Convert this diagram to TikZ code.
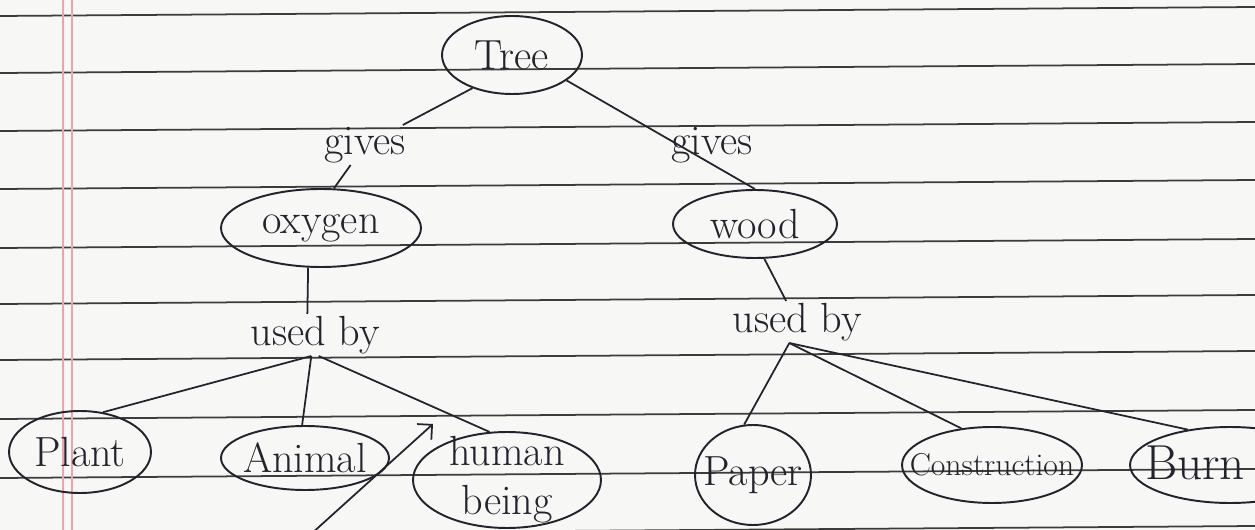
\documentclass[tikz,border=0pt]{standalone}
\usetikzlibrary{shapes.geometric,arrows.meta}
\definecolor{paper}{HTML}{F7F7F5}
\definecolor{ink}{HTML}{23232E}
\definecolor{rulegray}{HTML}{3C3C3C}
\definecolor{marginpink}{HTML}{EBA5B0}
\begin{document}
\begin{tikzpicture}[x=0.02cm,y=-0.02cm,
  ell/.style={ellipse,draw=ink,line width=1.1pt,inner sep=0pt},
  txt/.style={text=ink,font=\fontsize{24}{28}\selectfont,inner sep=1pt,align=center},
  lbl/.style={text=ink,font=\fontsize{24}{28}\selectfont,inner sep=1pt},
  con/.style={draw=ink,line width=1pt},
  ruled/.style={draw=rulegray,line width=1pt},
  marginline/.style={draw=marginpink,line width=0.9pt}]
\fill[paper] (0,0) rectangle (1255,530);
\useasboundingbox (0,0) rectangle (1255,530);
% ruled paper
\foreach \y in {16,73,131,189,248,304,360,419,478,535}
  \draw[ruled] (0,\y) -- (1255,\y-9);
\draw[marginline] (63,0) -- (63,530);
\draw[marginline] (72,0) -- (72,530);

% concept nodes
\node[ell,minimum width=2.8cm,minimum height=1.56cm] (tree) at (512,55) {};
\node[txt] (treeT) at (tree) {Tree};
\node[ell,minimum width=4.0cm,minimum height=1.56cm] (oxy) at (321,228) {};
\node[txt] (oxyT) at (oxy) {oxygen};
\node[ell,minimum width=3.28cm,minimum height=1.36cm] (wood) at (755,224) {};
\node[txt] (woodT) at (wood) {wood};
\node[ell,minimum width=2.84cm,minimum height=1.64cm] (plant) at (80,452) {};
\node[txt] (plantT) at (plant) {Plant};
\node[ell,minimum width=3.36cm,minimum height=1.28cm] (animal) at (305,458) {};
\node[txt] (animalT) at (animal) {Animal};
\node[ell,minimum width=3.76cm,minimum height=1.92cm] (hb) at (507,480) {};
\node[txt] (hbT) at (hb) {human\\being};
\node[ell,minimum width=2.32cm,minimum height=2.0cm] (paperN) at (753,475) {};
\node[txt] (paperT) at (paperN) {Paper};
\node[ell,minimum width=3.6cm,minimum height=1.52cm] (constr) at (992,465) {};
\node[txt,font=\fontsize{18}{21}\selectfont] (constrT) at (constr) {Construction};
\node[ell,minimum width=4.0cm,minimum height=1.52cm] (burn) at (1230,465) {};
\node[txt,anchor=west,font=\fontsize{28}{32}\selectfont] (burnT) at (1143,463) {Burn};

% link labels
\node[lbl] (g1) at (365,145) {gives};
\node[lbl] (g2) at (712,145) {gives};
\node[lbl] (u1) at (315,335) {used by};
\node[lbl] (u2) at (797,322) {used by};

% connectors
\draw[con] (tree.-140) -- (g1);
\draw[con] (g1) -- (oxy.72);
\draw[con] (tree.-25) -- (wood.north);
\draw[con] (oxy.-108) -- (u1.110);
\draw[con] (wood.-75) -- (u2);
\draw[con] (u1.-100) -- (plant.60);
\draw[con] (u1.-100) -- (animal.95);
\draw[con] (u1.-80) -- (hb.110);
\draw[con] (u2.-110) -- (paperN.100);
\draw[con] (u2.-110) -- (constr.130);
\draw[con] (u2.-110) -- (burn.140);
\coordinate (s1) at (310,535);
\coordinate (s2) at (433,424);
\draw[con,-{Straight Barb[length=6pt]}] (s1) -- (s2);
\end{tikzpicture}
\end{document}
